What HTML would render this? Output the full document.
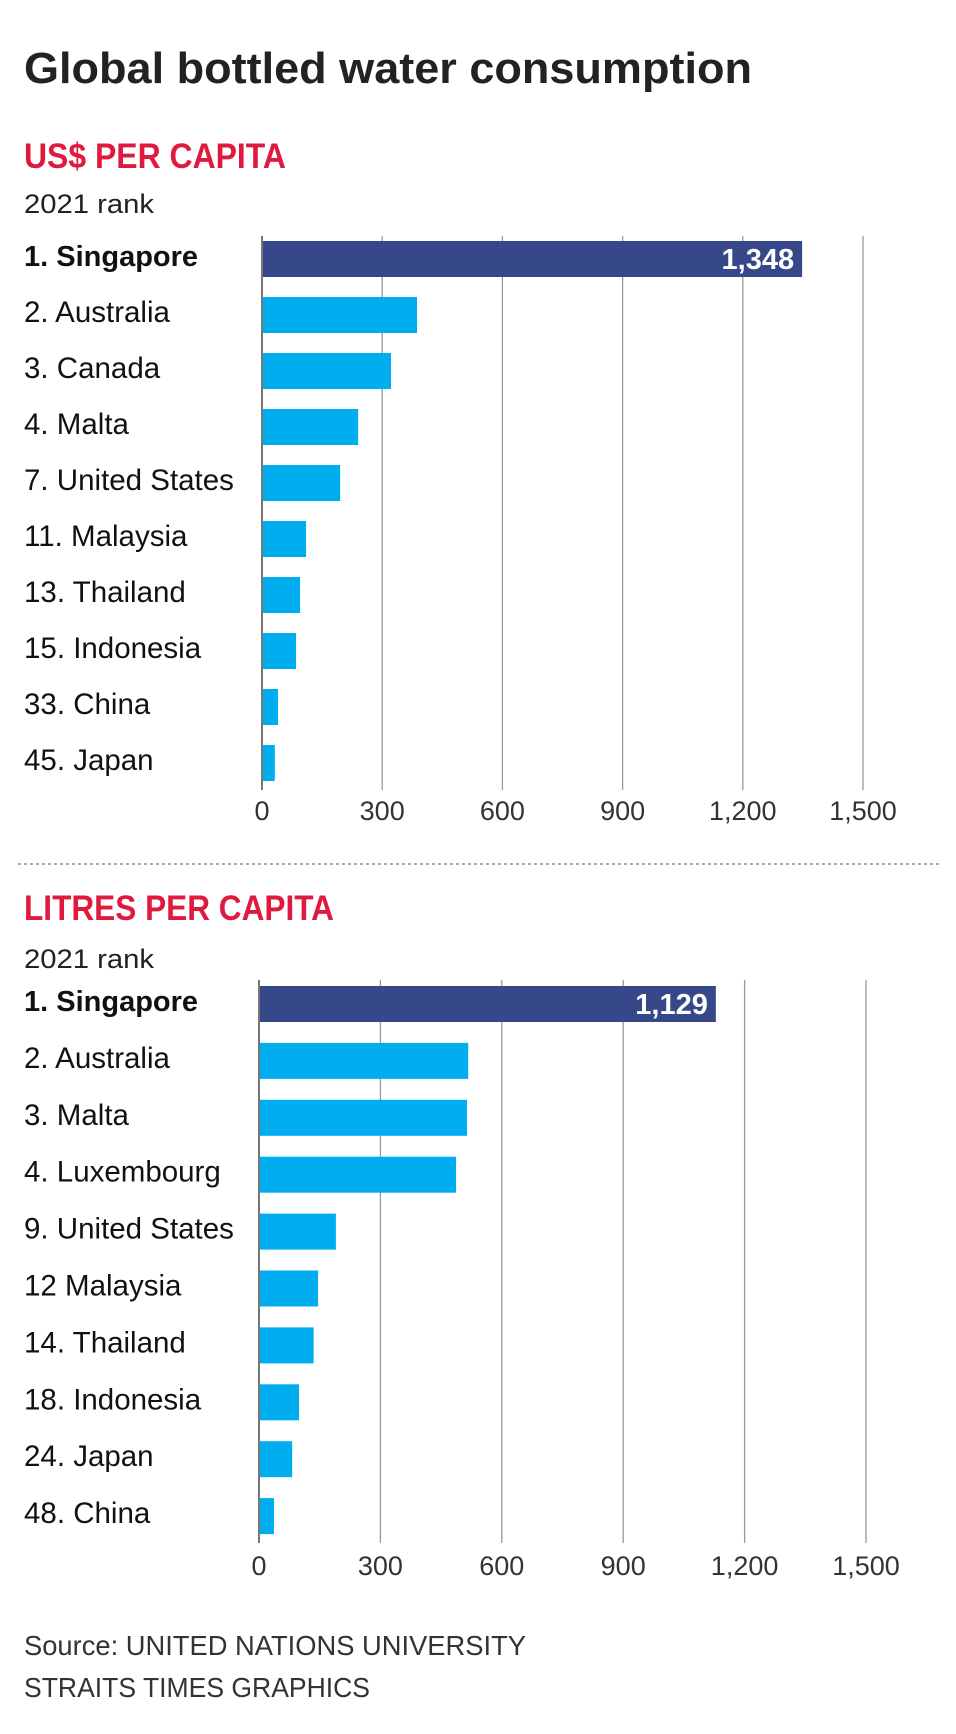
<!DOCTYPE html>
<html><head><meta charset="utf-8">
<style>
html,body{margin:0;padding:0;background:#fff;}
svg{display:block;font-family:"Liberation Sans",sans-serif;}
</style></head>
<body>
<svg id="chart" width="956" height="1734" viewBox="0 0 956 1734" xmlns="http://www.w3.org/2000/svg">
<text x="24" y="83" font-size="44" font-weight="bold" fill="#222" textLength="728" lengthAdjust="spacingAndGlyphs">Global bottled water consumption</text>
<text x="24" y="168" font-size="35" font-weight="bold" fill="#e0193f" textLength="262" lengthAdjust="spacingAndGlyphs">US$ PER CAPITA</text>
<text x="24" y="213" font-size="27" fill="#222" textLength="130" lengthAdjust="spacingAndGlyphs">2021 rank</text>
<line x1="18" y1="864" x2="942" y2="864" stroke="#aaa" stroke-width="2" stroke-dasharray="3,3"/>
<text x="24" y="920" font-size="35" font-weight="bold" fill="#e0193f" textLength="310" lengthAdjust="spacingAndGlyphs">LITRES PER CAPITA</text>
<text x="24" y="968" font-size="27" fill="#222" textLength="130" lengthAdjust="spacingAndGlyphs">2021 rank</text>
<text x="24" y="1655" font-size="28" fill="#333" textLength="502" lengthAdjust="spacingAndGlyphs">Source: UNITED NATIONS UNIVERSITY</text>
<text x="24" y="1697" font-size="28" fill="#333" textLength="346" lengthAdjust="spacingAndGlyphs">STRAITS TIMES GRAPHICS</text>
<g id="c1"></g>
<g id="c2"></g>
</svg>
<script>
const usdCategories = ["1. Singapore","2. Australia","3. Canada","4. Malta","7. United States","11. Malaysia","13. Thailand","15. Indonesia","33. China","45. Japan"];
const usdValues = [1348,387,322,240,195,110,95,85,40,32];
const litresCategories = ["1. Singapore","2. Australia","3. Malta","4. Luxembourg","9. United States","12 Malaysia","14. Thailand","18. Indonesia","24. Japan","48. China"];
const litresValues = [1129,517,514,487,190,146,135,99,82,37];
const tickValues = [0,300,600,900,1200,1500];
const tickLabels = ["0","300","600","900","1,200","1,500"];
const NS = "http://www.w3.org/2000/svg";
function mk(tag, attrs, parent){const e=document.createElementNS(NS,tag);for(const k in attrs)e.setAttribute(k,attrs[k]);parent.appendChild(e);return e;}
function draw(g, cats, vals, cfg, prefix){
  const x = v => cfg.x0 + v*(cfg.x1-cfg.x0)/1500;
  const yc = i => cfg.yc0 + i*cfg.step;
  tickValues.forEach((t,i)=>{
    if(i>0){const l=mk("line",{x1:x(t),x2:x(t),y1:cfg.gTop,y2:cfg.gBot,stroke:"#999","stroke-width":1.3},g);
    
    }
    const tx=mk("text",{x:x(t),y:cfg.tickY,"font-size":27,fill:"#333","text-anchor":"middle"},g);
    tx.textContent=tickLabels[i];
    
    
  });
  cats.forEach((c,i)=>{
    const first = i===0;
    const r=mk("rect",{x:x(0),y:yc(i)-19,width:x(vals[i])-x(0),height:36,fill:first?"#36488a":"#00aeef"},g);
    
    
    const t=mk("text",{x:24,y:yc(i)+6,"font-size":first?29:29.5,"font-weight":first?"bold":"normal",fill:"#111"},g);
    t.textContent=c;
    
    
    if(first){
      const v=mk("text",{x:x(vals[i])-8,y:yc(i)+9,"font-size":29,"font-weight":"bold",fill:"#fff","text-anchor":"end"},g);
      v.textContent=vals[i].toLocaleString("en-US");
      
      
    }
  });
  const a=mk("line",{x1:x(0),x2:x(0),y1:cfg.gTop,y2:cfg.gBot,stroke:"#777","stroke-width":2},g);
  
  
}
draw(document.getElementById("c1"), usdCategories, usdValues, {x0:262,x1:863,yc0:260,step:56,gTop:236,gBot:790,tickY:820}, "usd");
draw(document.getElementById("c2"), litresCategories, litresValues, {x0:259,x1:866,yc0:1005,step:56.9,gTop:980,gBot:1543,tickY:1575}, "litres");
</script>
</body></html>
